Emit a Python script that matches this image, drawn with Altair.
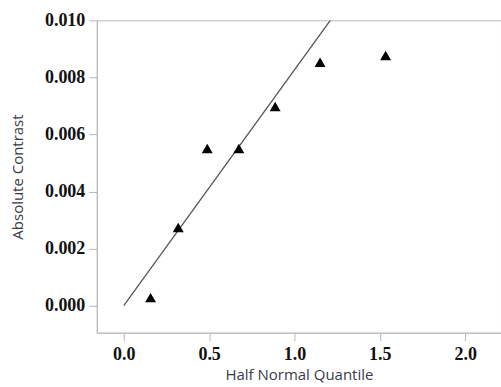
import altair as alt
import pandas as pd

# Half-normal plot data
quantiles = [0.157, 0.319, 0.489, 0.674, 0.887, 1.150, 1.534]
contrasts = [0.00028, 0.00274, 0.00551, 0.00551, 0.00698, 0.00853, 0.00877]

# Reference line through origin
line_x = [0.0, 1.21]
line_y = [0.0, 0.010]

pts = pd.DataFrame({"q": quantiles, "c": contrasts})
ln = pd.DataFrame({"q": line_x, "c": line_y})

xscale = alt.Scale(domain=[-0.158, 2.21], nice=False, zero=False)
yscale = alt.Scale(domain=[-0.00095, 0.010], nice=False, zero=False)

axis_common = dict(
    grid=False,
    domainColor="#b8b8b8",
    tickColor="#b8b8b8",
    tickSize=8,
    labelFont="Liberation Serif",
    labelFontWeight="bold",
    labelFontSize=18,
    labelColor="#111111",
    titleFont="Open Sans",
    titleFontWeight="normal",
    titleFontSize=15,
    titleColor="#3a3a48",
)

xaxis = alt.Axis(
    title="Half Normal Quantile",
    values=[0, 0.5, 1.0, 1.5, 2.0],
    format=".1f",
    labelPadding=5,
    titlePadding=4,
    **axis_common,
)
yaxis = alt.Axis(
    title="Absolute Contrast",
    values=[0, 0.002, 0.004, 0.006, 0.008, 0.010],
    format=".3f",
    labelPadding=4,
    titlePadding=19,
    **axis_common,
)

line = alt.Chart(ln).mark_line(color="#555555", strokeWidth=1.3, clip=True).encode(
    x=alt.X("q:Q", scale=xscale, axis=xaxis),
    y=alt.Y("c:Q", scale=yscale, axis=yaxis),
)

points = alt.Chart(pts).mark_point(
    shape="triangle-up", filled=True, color="black", opacity=1, size=120
).encode(
    x=alt.X("q:Q", scale=xscale),
    y=alt.Y("c:Q", scale=yscale),
)

chart = (
    alt.layer(line, points)
    .properties(
        width=405,
        height=313,
        autosize=alt.AutoSizeParams(type="none"),
        padding={"left": 97, "top": 20, "right": 0, "bottom": 54},
        background="white",
    )
    .configure_view(stroke="#b8b8b8", strokeWidth=1)
)

chart.save("out.html", embed_options={"renderer": "svg", "actions": False})
